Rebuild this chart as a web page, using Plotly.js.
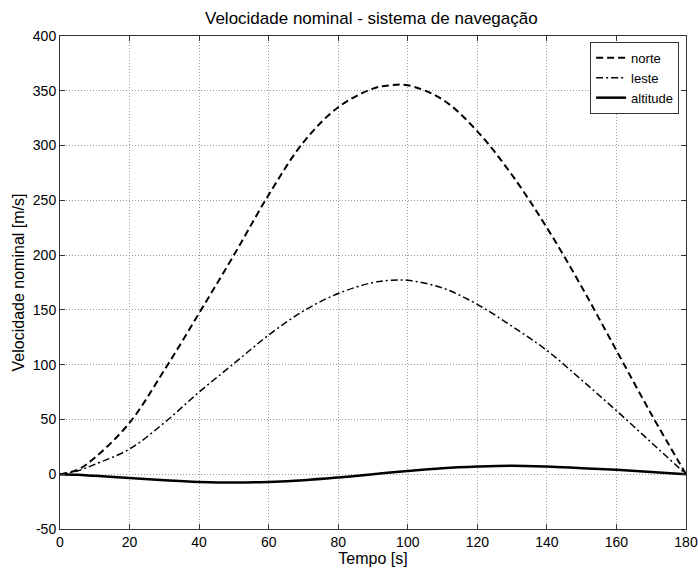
<!DOCTYPE html>
<html>
<head>
<meta charset="utf-8">
<script src="https://cdn.plot.ly/plotly-3.0.1.min.js"></script>
<style>html,body{margin:0;padding:0;background:#fff;}#chart{width:698px;height:571px;}</style>
</head>
<body>
<div id="chart"></div>
<script>
var tempo = [0,5,10,20,30,40,50,60,70,80,90,95,100,110,120,130,140,150,160,170,180];
var norte = [0,4,15,47,95,147,200,255,303,335,352,355,355,342,313,273,225,171,113,55,0];
var leste = [0,3,9,23,47,75,101,127,149,165,175,177,177,170,155,135,113,86,58,29,0];
var altitude = [0,-0.5,-1.5,-3.5,-5.5,-7,-7.6,-7,-5.5,-3,0,1.5,3,5.5,7,7.8,7,5.5,4,2,0];
var xTicks = [0,20,40,60,80,100,120,140,160,180];
var yTicks = [-50,0,50,100,150,200,250,300,350,400];
var yTickText = ['-50','0','50','100','150','200','250','300','350','400'];

var font = "'Liberation Sans', Arial, sans-serif";
var traces = [
  {x: tempo, y: norte, name: 'norte', mode: 'lines',
   line: {color: '#000', width: 2, dash: '7px,4px', shape: 'spline', smoothing: 1}},
  {x: tempo, y: leste, name: 'leste', mode: 'lines',
   line: {color: '#000', width: 1.5, dash: '7px,3px,2px,3px', shape: 'spline', smoothing: 1}},
  {x: tempo, y: altitude, name: 'altitude', mode: 'lines',
   line: {color: '#000', width: 2.5, shape: 'spline', smoothing: 1}}
];
var axisCommon = {
  showline: true, linecolor: '#333', linewidth: 1, mirror: 'ticks',
  ticks: 'inside', ticklen: 5, tickcolor: '#333',
  showgrid: true, gridcolor: '#999', gridwidth: 1, griddash: '1px,2px',
  zeroline: false, tickfont: {family: font, size: 14, color: '#000'}
};
var layout = {
  width: 698, height: 571,
  margin: {l: 60, r: 12, t: 36, b: 42},
  paper_bgcolor: '#fff', plot_bgcolor: '#fff',
  title: {text: 'Velocidade nominal - sistema de navegação', x: 0.532, xanchor: 'center', y: 0.968, yanchor: 'middle',
          font: {family: font, size: 17, color: '#000'}},
  xaxis: Object.assign({}, axisCommon, {range: [0,180], tickvals: xTicks,
          title: {text: 'Tempo [s]', font: {family: font, size: 16, color: '#000'}, standoff: 2}}),
  yaxis: Object.assign({}, axisCommon, {range: [-50,400], tickvals: yTicks, ticktext: yTickText,
          title: {text: 'Velocidade nominal [m/s]', font: {family: font, size: 16, color: '#000'}, standoff: 4}}),
  showlegend: true,
  legend: {x: 0.989, xanchor: 'right', y: 0.988, yanchor: 'top', bgcolor: '#fff',
           bordercolor: '#333', borderwidth: 1, font: {family: font, size: 13, color: '#000'},
           tracegroupgap: 0, itemwidth: 30}
};
Plotly.newPlot('chart', traces, layout, {displayModeBar: false, staticPlot: true});
</script>
</body>
</html>
